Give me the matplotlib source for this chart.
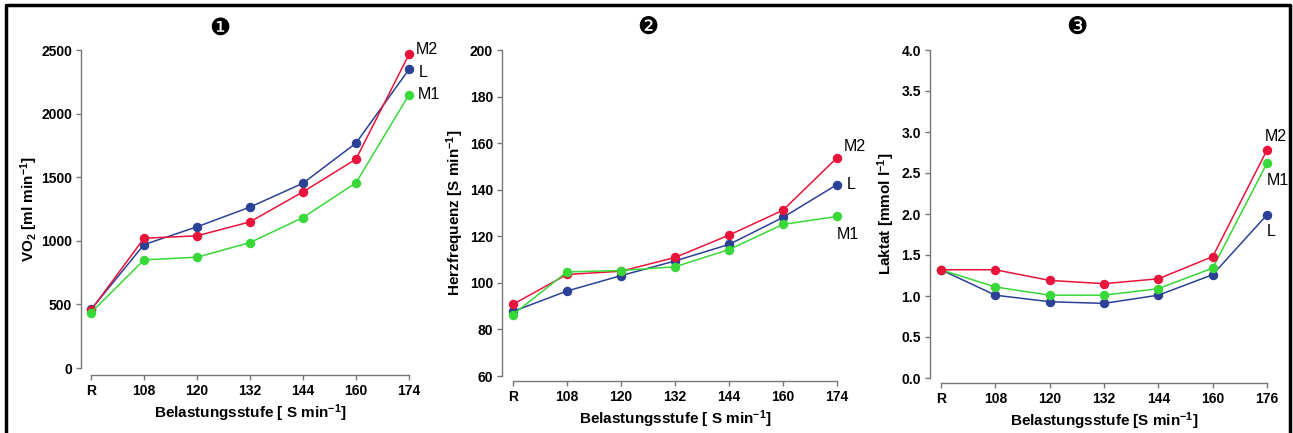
import matplotlib
matplotlib.use("Agg")
import matplotlib.pyplot as plt
from matplotlib.lines import Line2D

plt.rcParams['font.family'] = ['Liberation Sans', 'DejaVu Sans']
plt.rcParams['mathtext.fontset'] = 'custom'
plt.rcParams['mathtext.rm'] = 'Liberation Sans:bold'
plt.rcParams['mathtext.bf'] = 'Liberation Sans:bold'
plt.rcParams['mathtext.default'] = 'rm'

# data
stufen_12 = ['R', '108', '120', '132', '144', '160', '174']
stufen_3 = ['R', '108', '120', '132', '144', '160', '176']

vo2_L = [460, 970, 1110, 1265, 1453, 1768, 2348]
vo2_M1 = [435, 850, 871, 986, 1183, 1456, 2148]
vo2_M2 = [455, 1020, 1039, 1149, 1385, 1642, 2466]

hf_L = [87.7, 96.5, 103.1, 109.4, 116.5, 128.1, 142.2]
hf_M1 = [86.4, 104.7, 105.3, 106.9, 114.3, 125.1, 128.5]
hf_M2 = [90.8, 103.6, 105.0, 110.9, 120.5, 131.2, 153.7]

lak_L = [1.32, 1.01, 0.93, 0.91, 1.01, 1.26, 1.99]
lak_M1 = [1.32, 1.11, 1.01, 1.01, 1.09, 1.34, 2.62]
lak_M2 = [1.32, 1.32, 1.19, 1.15, 1.21, 1.48, 2.78]

RED = '#e8143c'
BLUE = '#2b4196'
GREEN = '#38d838'
GRAY = '#777777'

W, H = 1293, 433
fig = plt.figure(figsize=(W / 100, H / 100), dpi=100)


def px_axes(x0, x1, y_top, y_bot):
    return fig.add_axes([x0 / W, 1 - y_bot / H, (x1 - x0) / W, (y_bot - y_top) / H])


def style(ax, labels, ylim, yticks, ytl, xgap):
    ax.set_ylim(*ylim)
    for s in ['top', 'right']:
        ax.spines[s].set_visible(False)
    for s in ['left', 'bottom']:
        ax.spines[s].set_color(GRAY)
        ax.spines[s].set_linewidth(1.0)
    ax.spines['left'].set_bounds(ylim[0], ylim[1])
    ax.spines['bottom'].set_bounds(0, 6)
    ax.spines['bottom'].set_position(('outward', xgap * 0.72))
    ax.set_xticks(range(7))
    ax.set_xticklabels(labels, fontweight='bold', fontsize=10)
    ax.set_yticks(yticks)
    ax.set_yticklabels(ytl, fontweight='bold', fontsize=10)
    ax.tick_params(axis='both', color=GRAY, length=3.5, width=1.0, pad=3)
    ax.patch.set_visible(False)


def lines(ax, series):
    for vals, col in series:
        ax.plot(range(7), vals, color=col, lw=1.1, marker='o', ms=5.8,
                mec=col, mfc=col, clip_on=False, zorder=3)


def endlabel(ax, txt, y, dx, dy):
    ax.annotate(txt, (6, y), xytext=(dx * 0.72, dy * 0.72), textcoords='offset points',
                ha='left', va='center', fontsize=11.5, annotation_clip=False)


# panel 1
ax1 = px_axes(81, 419, 50, 368)
ax1.set_xlim(-10 / 53, 6 + 10 / 53)
style(ax1, stufen_12, (0, 2500), [0, 500, 1000, 1500, 2000, 2500],
      ['0', '500', '1000', '1500', '2000', '2500'], 7)
lines(ax1, [(vo2_L, BLUE), (vo2_M2, RED), (vo2_M1, GREEN)])
endlabel(ax1, 'M2', vo2_M2[-1], 7, 5)
endlabel(ax1, 'L', vo2_L[-1], 10, -3)
endlabel(ax1, 'M1', vo2_M1[-1], 9, 0)
ax1.set_xlabel(r'Belastungsstufe [ S min$^{-1}$]', fontweight='bold', fontsize=11, labelpad=3)
ax1.set_ylabel(r'VO$_2$ [ml min$^{-1}$]', fontweight='bold', fontsize=11, labelpad=1)
ax1.text(0.411, 1.07, '\u2776', transform=ax1.transAxes, ha='center', va='center',
         fontsize=17, family=['DejaVu Sans'])

# panel 2
ax2 = px_axes(502, 848, 50, 376)
ax2.set_xlim(-11 / 54, 6 + 11 / 54)
style(ax2, stufen_12, (60, 200), [60, 80, 100, 120, 140, 160, 180, 200],
      ['60', '80', '100', '120', '140', '160', '180', '200'], 5)
lines(ax2, [(hf_L, BLUE), (hf_M2, RED), (hf_M1, GREEN)])
endlabel(ax2, 'M2', hf_M2[-1], 7, 11)
endlabel(ax2, 'L', hf_L[-1], 10, 0)
endlabel(ax2, 'M1', hf_M1[-1], 0, -18)
ax2.set_xlabel(r'Belastungsstufe [ S min$^{-1}$]', fontweight='bold', fontsize=11, labelpad=3)
ax2.set_ylabel(r'Herzfrequenz [S min$^{-1}$]', fontweight='bold', fontsize=11, labelpad=3)
ax2.text(0.422, 1.07, '\u2777', transform=ax2.transAxes, ha='center', va='center',
         fontsize=17, family=['DejaVu Sans'])

# panel 3
ax3 = px_axes(930, 1278, 50, 378)
ax3.set_xlim(-11 / 54.33, 6 + 11 / 54.33)
style(ax3, stufen_3, (0, 4), [0, 0.5, 1, 1.5, 2, 2.5, 3, 3.5, 4],
      ['0.0', '0.5', '1.0', '1.5', '2.0', '2.5', '3.0', '3.5', '4.0'], 5)
lines(ax3, [(lak_L, BLUE), (lak_M1, GREEN), (lak_M2, RED)])
endlabel(ax3, 'M2', lak_M2[-1], -2, 14)
endlabel(ax3, 'M1', lak_M1[-1], 0, -17)
endlabel(ax3, 'L', lak_L[-1], 0, -17)
ax3.set_xlabel(r'Belastungsstufe [S min$^{-1}$]', fontweight='bold', fontsize=11, labelpad=3)
ax3.set_ylabel(r'Laktat [mmol l$^{-1}$]', fontweight='bold', fontsize=11, labelpad=3)
ax3.text(0.422, 1.07, '\u2778', transform=ax3.transAxes, ha='center', va='center',
         fontsize=17, family=['DejaVu Sans'])

# black frame around the picture (no bottom edge)
xl, xr, yt = 6 / W, 1290 / W, 1 - 5 / H
fig.add_artist(Line2D([xl, xl, xr, xr], [0, yt, yt, 0], color='black', lw=2.5,
                      transform=fig.transFigure))

fig.savefig('out.png', dpi=100)
